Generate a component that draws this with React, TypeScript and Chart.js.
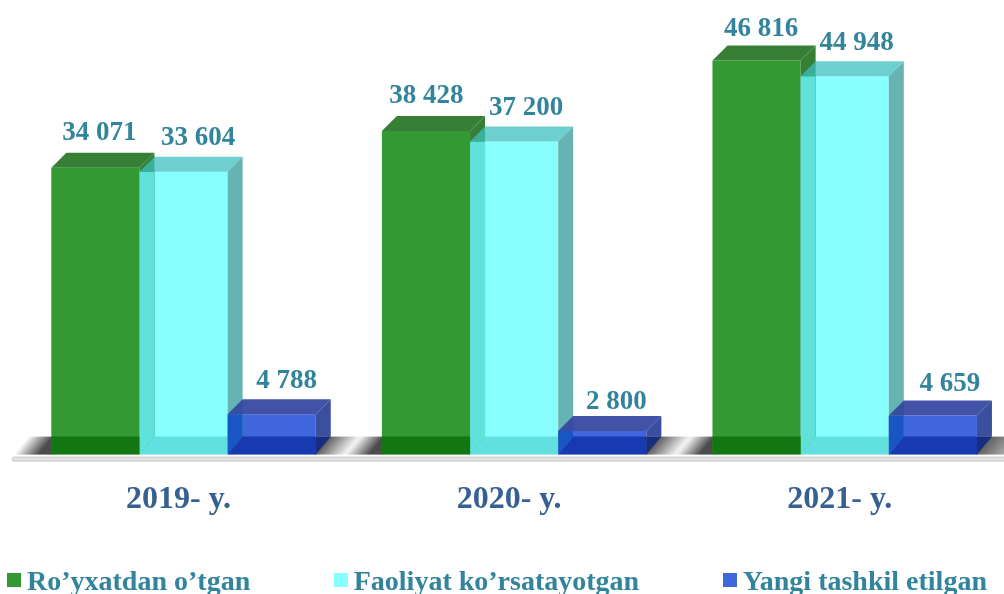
import React, { useEffect, useRef } from "react";
import { Chart, registerables } from "chart.js";

Chart.register(...registerables);

const categories = ["2019- y.", "2020- y.", "2021- y."];
const seriesNames = ["Ro’yxatdan o’tgan", "Faoliyat ko’rsatayotgan", "Yangi tashkil etilgan"];
const registered = [34071, 38428, 46816];
const active = [33604, 37200, 44948];
const newlyFounded = [4788, 2800, 4659];
const seriesValues = [registered, active, newlyFounded];

const frontColors = ["#339933", "#88ffff", "#4066dd"];
const topColors = ["#367f35", "rgba(60,191,191,0.75)", "rgba(50,68,160,0.92)"];
const sideColors = ["#367f35", "#66b3b3", "#3a4f9e"];
const bandColors = ["#339933", "#5fe2d9", "#1a55c4"];
const floorColors = ["#127712", "#62e0e0", "#183ab0"];
const floorSideColors = ["#127712", "#66b3b3", "#172d80"];

const labelColor = "#31849b";
const tickColor = "#366092";
const fontFamily = "'Liberation Serif'";
const DEPTH = 15;
const FLOOR = 18;

// label placement relative to the bar's back-top edge: [dx, dy] per series per year
const labelNudges = [
  [[4, 20], [0.5, 20.5], [4.5, 16]],
  [[14.5, 18.5], [12, 18], [12, 18]],
  [[15, 18], [14, 14], [17, 16]],
];

function poly(ctx: CanvasRenderingContext2D, color: string, pts: number[][]) {
  ctx.fillStyle = color;
  ctx.beginPath();
  pts.forEach(([x, y], i) => (i ? ctx.lineTo(x, y) : ctx.moveTo(x, y)));
  ctx.closePath();
  ctx.fill();
}

const stagePlugin = {
  id: "stage",
  beforeDatasetsDraw(chart: any) {
    const ctx: CanvasRenderingContext2D = chart.ctx;
    const base = chart.chartArea.bottom;
    const nx = 0.768;
    const ny = 0.64;
    ctx.save();
    categories.forEach((_, g) => {
      const left = chart.getDatasetMeta(0).data[g] as any;
      const right = chart.getDatasetMeta(2).data[g] as any;
      const x0 = left.x - left.width / 2;
      const x1 = right.x + right.width / 2;
      const top = base - FLOOR;
      // fading floor shadow, left of the group
      const gl = ctx.createLinearGradient(x0 + 2, top, x0 + 2 - nx * 19, top - ny * 19);
      gl.addColorStop(0, "rgba(30,30,30,0.8)");
      gl.addColorStop(1, "rgba(30,30,30,0)");
      ctx.fillStyle = gl;
      ctx.fillRect(x0 - 50, top, 51, FLOOR);
      // fading floor shadow, right of the group
      const len = g === categories.length - 1 ? 45 : 24;
      const gr = ctx.createLinearGradient(x1, base, x1 + nx * len, base + ny * len);
      gr.addColorStop(0, "rgba(30,30,30,0.7)");
      gr.addColorStop(1, "rgba(30,30,30,0)");
      ctx.fillStyle = gr;
      ctx.fillRect(x1 - 1, top, 60, FLOOR);
    });
    // ground strip
    ctx.fillStyle = "#e3e3e3";
    ctx.strokeStyle = "#c6c6c6";
    ctx.lineWidth = 1;
    ctx.beginPath();
    (ctx as any).roundRect(12, base + 2.5, 1010, 4, 2);
    ctx.fill();
    ctx.stroke();
    ctx.restore();
  },
  afterDatasetsDraw(chart: any) {
    const ctx: CanvasRenderingContext2D = chart.ctx;
    const d = DEPTH;
    ctx.save();
    categories.forEach((_, g) => {
      const faces = [0, 1, 2].map((s) => {
        const b = chart.getDatasetMeta(s).data[g] as any;
        return { x0: b.x - b.width / 2, x1: b.x + b.width / 2, y: b.y, base: b.base };
      });
      const side = (s: number) => {
        const f = faces[s];
        poly(ctx, sideColors[s], [[f.x1, f.y], [f.x1 + d, f.y - d], [f.x1 + d, f.base - FLOOR], [f.x1, f.base - FLOOR]]);
        poly(ctx, floorSideColors[s], [[f.x1, f.base - FLOOR], [f.x1 + d, f.base - FLOOR], [f.x1, f.base]]);
      };
      const inner = (s: number) => {
        const f = faces[s];
        if (s > 0) {
          poly(ctx, bandColors[s], [[f.x0, f.y], [f.x0 + d, f.y], [f.x0 + d, f.base - FLOOR], [f.x0, f.base]]);
          poly(ctx, floorColors[s], [[f.x0, f.base], [f.x1, f.base], [f.x1, f.base - FLOOR], [f.x0 + d, f.base - FLOOR]]);
        } else {
          poly(ctx, floorColors[s], [[f.x0, f.base], [f.x1, f.base], [f.x1, f.base - FLOOR], [f.x0, f.base - FLOOR]]);
        }
      };
      const top = (s: number) => {
        const f = faces[s];
        poly(ctx, topColors[s], [[f.x0, f.y], [f.x1, f.y], [f.x1 + d, f.y - d], [f.x0 + d, f.y - d]]);
      };
      side(0);
      inner(1);
      top(1);
      side(1);
      inner(2);
      top(2);
      side(2);
      inner(0);
      top(0);
    });
    // value labels
    ctx.font = `bold 27px ${fontFamily}`;
    ctx.fillStyle = labelColor;
    ctx.textAlign = "center";
    ctx.textBaseline = "middle";
    seriesValues.forEach((vals, s) => {
      vals.forEach((v, g) => {
        const b = chart.getDatasetMeta(s).data[g] as any;
        const [dx, dy] = labelNudges[s][g];
        const text = String(v).replace(/\B(?=(\d{3})+$)/g, " ");
        ctx.fillText(text, b.x + dx, b.y - d - dy);
      });
    });
    ctx.restore();
  },
};

export default function App() {
  const ref = useRef<HTMLCanvasElement>(null);
  useEffect(() => {
    const chart = new Chart(ref.current!, {
      type: "bar",
      data: {
        labels: categories,
        datasets: seriesValues.map((data, s) => ({
          label: seriesNames[s],
          data,
          backgroundColor: frontColors[s],
          borderWidth: 0,
          categoryPercentage: 0.8,
          barPercentage: 1,
        })),
      },
      options: {
        animation: false,
        responsive: false,
        devicePixelRatio: 1,
        layout: { padding: { left: 18.25, right: 0, top: 0, bottom: 57 } },
        plugins: { legend: { display: false }, tooltip: { enabled: false } },
        scales: {
          x: {
            grid: { display: false },
            border: { display: false },
            ticks: {
              color: tickColor,
              padding: 18,
              labelOffset: -5,
              maxRotation: 0,
              font: { family: fontFamily, size: 32, weight: "bold" },
            },
          },
          y: { display: false, min: 0, max: 54000 },
        },
      },
      plugins: [stagePlugin],
    } as any);
    return () => chart.destroy();
  }, []);

  return (
    <div style={{ position: "absolute", left: 0, top: 0, width: 1004, height: 594, overflow: "hidden", background: "#fff" }}>
      <canvas ref={ref} width={1010} height={594} style={{ display: "block" }} />
      <div
        style={{
          position: "absolute",
          left: 7,
          top: 564,
          height: 32,
          display: "flex",
          alignItems: "center",
          gap: 83.5,
          whiteSpace: "nowrap",
          fontFamily,
          fontWeight: "bold",
          fontSize: 28,
          color: labelColor,
        }}
      >
        {seriesNames.map((name, s) => (
          <div key={name} style={{ display: "flex", alignItems: "center", gap: 6 }}>
            <span style={{ width: 14, height: 14, background: frontColors[s], display: "inline-block" }} />
            <span style={{ position: "relative", top: 1 }}>{name}</span>
          </div>
        ))}
      </div>
    </div>
  );
}
